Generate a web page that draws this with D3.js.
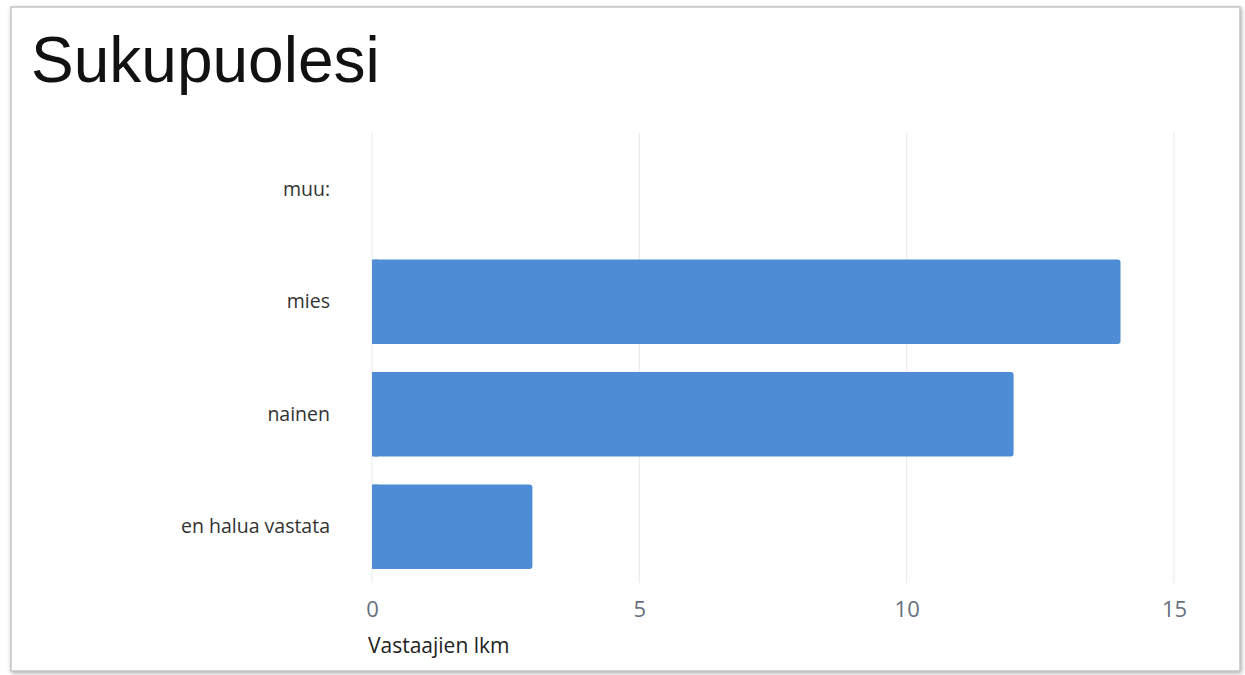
<!DOCTYPE html>
<html>
<head>
<meta charset="utf-8">
<script src="https://cdn.jsdelivr.net/npm/d3@7"></script>
<style>
  html, body { margin: 0; padding: 0; background: #ffffff; }
  svg { display: block; }
</style>
</head>
<body>
<svg id="chart" width="1245" height="675"></svg>
<script>
// Survey answers: gender of respondents
const categories = ["muu:", "mies", "nainen", "en halua vastata"];
const counts = [0, 14, 12, 3];
const tickValues = [0, 5, 10, 15];
const chartTitle = "Sukupuolesi";
const axisTitle = "Vastaajien lkm";

const W = 1245, H = 675;
const svg = d3.select("#chart");

// card shadow + frame
const defs = svg.append("defs");
const shadow = defs.append("filter").attr("id", "cardShadow")
  .attr("x", "-5%").attr("y", "-5%").attr("width", "110%").attr("height", "110%");
shadow.append("feDropShadow").attr("dx", 1).attr("dy", 1.5)
  .attr("stdDeviation", 2).attr("flood-color", "#000").attr("flood-opacity", 0.35);

svg.append("rect")
  .attr("x", 11).attr("y", 7).attr("width", 1229).attr("height", 664)
  .attr("fill", "#ffffff").attr("stroke", "#b8b8b8").attr("stroke-width", 1.2)
  .attr("filter", "url(#cardShadow)");

// title
svg.append("text")
  .attr("x", 31).attr("y", 82)
  .attr("font-family", "Liberation Sans, Arial, sans-serif")
  .attr("font-size", 64)
  .attr("fill", "#111111")
  .text(chartTitle);

const x = d3.scaleLinear().domain([0, 15]).range([372, 1174]);
const y = d3.scaleBand().domain(categories).range([133, 583])
  .paddingInner(0.25).paddingOuter(0.125);

// vertical gridlines
svg.append("g").selectAll("line")
  .data(tickValues)
  .join("line")
  .attr("x1", d => x(d)).attr("x2", d => x(d))
  .attr("y1", 133).attr("y2", 583)
  .attr("stroke", "#e9ecef").attr("stroke-width", 1.2);

const barData = categories.map((c, i) => ({ c, v: counts[i] })).filter(d => d.v > 0);

// bars
svg.append("g").selectAll("rect")
  .data(barData)
  .join("rect")
  .attr("x", x(0))
  .attr("y", d => y(d.c))
  .attr("width", d => x(d.v) - x(0))
  .attr("height", y.bandwidth())
  .attr("rx", 3).attr("ry", 3)
  .attr("fill", "#4e8cd6");

// square off the left side of each bar at the baseline
svg.append("g").selectAll("rect")
  .data(barData)
  .join("rect")
  .attr("x", x(0))
  .attr("y", d => y(d.c))
  .attr("width", 6)
  .attr("height", y.bandwidth())
  .attr("fill", "#4e8cd6");

// category axis
const yAxis = svg.append("g")
  .attr("transform", `translate(${x(0) - 42},0)`)
  .call(d3.axisLeft(y).tickSize(0).tickPadding(0));
yAxis.select(".domain").remove();
yAxis.selectAll("text")
  .attr("font-family", "Open Sans, sans-serif")
  .attr("font-size", 19.5)
  .attr("fill", "#333333");

// value axis
const xAxis = svg.append("g")
  .attr("transform", `translate(0,583)`)
  .call(d3.axisBottom(x).tickValues(tickValues).tickSize(0).tickPadding(18));
xAxis.select(".domain").remove();
xAxis.selectAll("text")
  .attr("font-family", "Open Sans, sans-serif")
  .attr("font-size", 22)
  .attr("fill", "#66707e");

// axis title
svg.append("text")
  .attr("x", 368).attr("y", 653)
  .attr("font-family", "Open Sans, sans-serif")
  .attr("font-size", 21)
  .attr("fill", "#222222")
  .text(axisTitle);
</script>
</body>
</html>
